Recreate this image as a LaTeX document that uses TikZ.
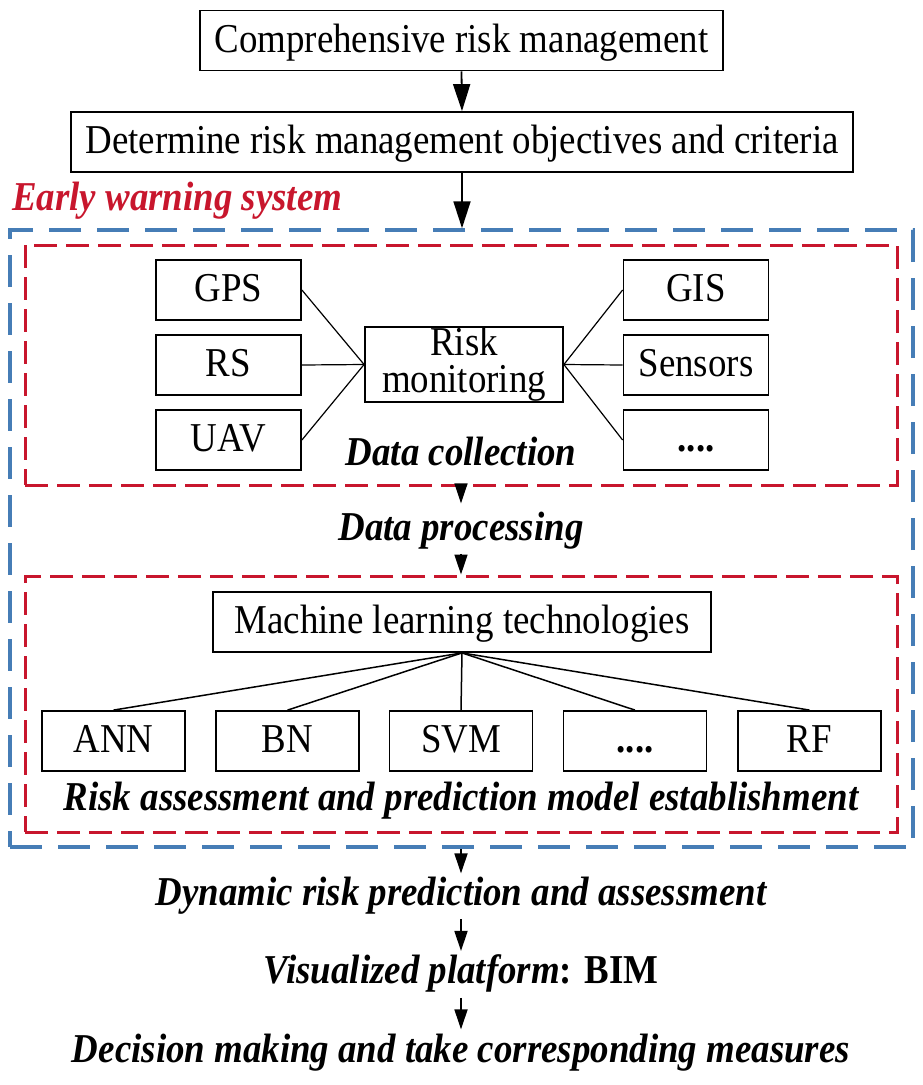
\documentclass[tikz,border=0pt]{standalone}
\usepackage{fontspec}
\setmainfont[FakeStretch=0.9]{Liberation Serif}
\usetikzlibrary{arrows.meta}
\definecolor{ewsblue}{RGB}{70,125,182}
\definecolor{ewsred}{RGB}{200,22,45}
\newcommand{\figfont}{\fontsize{41}{37}\selectfont}
\tikzset{
  plainbox/.style={draw, line width=1.8pt, inner sep=0pt, minimum height=60pt},
  onebox/.style={plainbox, text height=23pt, text depth=0pt},
  srcbox/.style={onebox, minimum width=145pt},
  mlbox/.style={onebox, minimum width=143pt},
  lbl/.style={font=\figfont\bfseries\itshape, anchor=base, inner sep=0pt},
  bigarr/.style={line width=1.8pt, -{Triangle[length=27pt,width=17pt]}},
  arr/.style={line width=1.6pt, -{Triangle[length=20pt,width=13pt]}},
  link/.style={line width=1.2pt},
  bluedash/.style={draw=ewsblue, line width=3.5pt, dash pattern=on 32pt off 16pt, inner sep=0pt},
  reddash/.style={draw=ewsred, line width=3pt, dash pattern=on 23pt off 9pt, inner sep=0pt}
}
\begin{document}
\begin{tikzpicture}[x=1pt, y=-1pt, font=\figfont]
            \useasboundingbox (0,0) rectangle (922,1085);
            % dashed frames
            \node [bluedash, minimum width=903pt, minimum height=617pt] (ews) at (461.5,538.5) {};
            \node [reddash, minimum width=872pt, minimum height=240pt] (dcbox) at (461,365) {};
            \node [reddash, minimum width=872pt, minimum height=256pt] (mlframe) at (461,704) {};
            \node [lbl, anchor=base west, text=ewsred] (ewslbl) at (12,210) {Early warning system};
            % top of the flow
            \node [onebox, minimum width=523pt] (crm) at (461.5,40.5) {Comprehensive risk management};
            \node [onebox, minimum width=782pt] (obj) at (462,142) {Determine risk management objectives and criteria};
            \draw [bigarr] (crm.south) to (obj.north);
            \draw [bigarr] (obj.south) to (obj.south |- ews.north);
            % data collection
            \node [plainbox, minimum width=198pt, minimum height=75pt, align=center] (rm) at (464,364.5) {Risk\\monitoring};
            \node [srcbox] (gps) at (228.5,290) {GPS};
            \node [srcbox] (rs) at (228.5,365) {RS};
            \node [srcbox] (uav) at (228.5,440) {UAV};
            \node [srcbox] (gis) at (696,290) {GIS};
            \node [srcbox] (sens) at (696,365) {Sensors};
            \node [srcbox] (more) at (696,440) {\textbf{....}};
            \foreach \s in {gps,rs,uav} \draw [link] (\s.east) to (rm.west);
            \foreach \s in {gis,sens,more} \draw [link] (rm.east) to (\s.west);
            \node [lbl] (dcol) at (461,465) {Data collection};
            % processing
            \node [lbl] (dproc) at (461,540) {Data processing};
            \draw [arr, shorten >=8pt] (dcbox.south) to (dproc.north);
            \draw [arr, shorten <=5pt] (dproc.south) to (dproc.south |- mlframe.north);
            % models
            \node [onebox, minimum width=498pt] (ml) at (462,622) {Machine learning technologies};
            \node [mlbox] (ann) at (113.5,741) {ANN};
            \node [mlbox] (bn) at (287.5,741) {BN};
            \node [mlbox] (svm) at (461,741) {SVM};
            \node [mlbox] (etc) at (635,741) {\textbf{....}};
            \node [mlbox] (rf) at (809.5,741) {RF};
            \foreach \m in {ann,bn,svm,etc,rf} \draw [link, line width=1.5pt] (ml.south) to (\m.north);
            \node [lbl] (rapm) at (461,810) {Risk assessment and prediction model establishment};
            % after the early warning system
            \node [lbl] (dyn) at (461,905) {Dynamic risk prediction and assessment};
            \node [lbl] (vis) at (461,983) {Visualized platform\upshape: BIM};
            \node [lbl] (dec) at (461,1062) {Decision making and take corresponding measures};
            \draw [arr, line width=1.8pt, shorten >=3pt] (dyn.north |- ews.south) to (dyn.north);
            \draw [arr, line width=1.8pt, shorten <=5pt, shorten >=3pt] (dyn.south) to (vis.north);
            \draw [arr, line width=1.8pt, shorten <=6pt, shorten >=4pt] (vis.south) to (dec.north);
          \end{tikzpicture}
\end{document}
